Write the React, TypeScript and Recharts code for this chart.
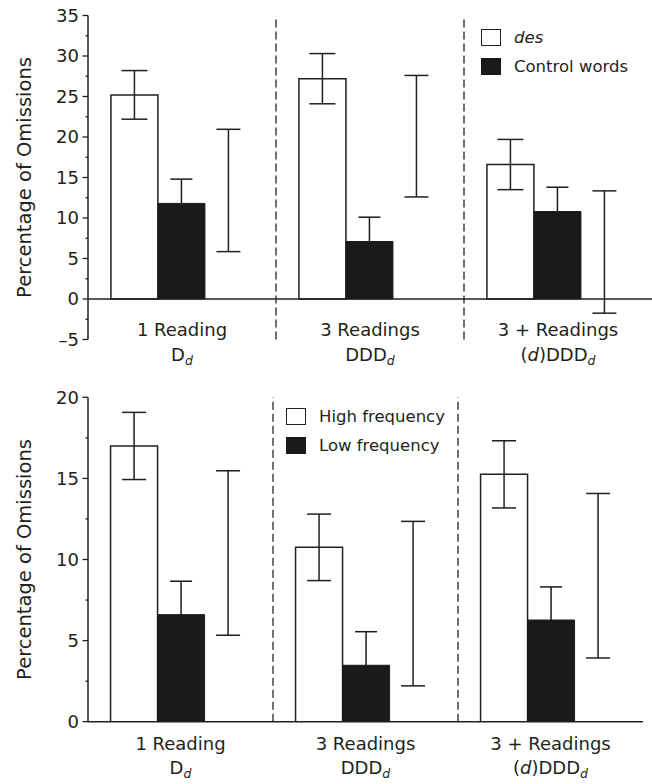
import React from 'react';
import { BarChart, Bar, XAxis, YAxis, ErrorBar, ReferenceLine, Legend } from 'recharts';

const font = '"DejaVu Sans", sans-serif';
const ink = '#231f20';
const black = '#1a1a1a';

// category labels (second line: text pieces, 'sub' = italic subscript, 'it' = italic)
const readings = ['1 Reading', '3 Readings', '3 + Readings'];
const patterns = [
  [['D', ''], ['d', 'sub']],
  [['DDD', ''], ['d', 'sub']],
  [['(', ''], ['d', 'it'], [')DDD', ''], ['d', 'sub']],
];

// top panel: des vs control words
const desMean = [25.2, 27.2, 16.6];
const desErr = [3.0, 3.1, 3.1];
const controlMean = [11.8, 7.1, 10.8];
const controlErr = [3.0, 3.0, 3.0];
const desDiff = [13.4, 20.1, 5.8];
const desDiffCI = [7.55, 7.5, 7.55];

// bottom panel: high vs low frequency
const highMean = [17.0, 10.75, 15.25];
const highErr = [2.07, 2.05, 2.07];
const lowMean = [6.6, 3.48, 6.27];
const lowErr = [2.06, 2.07, 2.04];
const freqDiff = [10.4, 7.28, 9.0];
const freqDiffCI = [5.07, 5.07, 5.07];

const topTicks = [-5, -2.5, 0, 2.5, 5, 7.5, 10, 12.5, 15, 17.5, 20, 22.5, 25, 27.5, 30, 32.5, 35];
const bottomTicks = [0, 2.5, 5, 7.5, 10, 12.5, 15, 17.5, 20];
// dashed separators after these categories
const separated = ['1 Reading', '3 Readings'];

const topData = readings.map((name, i) => ({
  name, a: desMean[i], aErr: desErr[i], b: controlMean[i], bErr: controlErr[i], d: desDiff[i], dErr: desDiffCI[i],
}));
const bottomData = readings.map((name, i) => ({
  name, a: highMean[i], aErr: highErr[i], b: lowMean[i], bErr: lowErr[i], d: freqDiff[i], dErr: freqDiffCI[i],
}));

const ValTick = (props: any) => {
  const { x, y, payload } = props;
  const v = payload.value;
  const major = v % 5 === 0;
  return (
    <g>
      <line x1={x - (major ? 5.5 : 2.5)} x2={x} y1={y} y2={y} stroke={ink} strokeWidth={1.3} />
      {major && (
        <text x={x - 9} y={y} dy="0.36em" textAnchor="end" fontSize={18} fontFamily={font} fill={ink}>
          {v < 0 ? '\u2013' + Math.abs(v) : v}
        </text>
      )}
    </g>
  );
};

const CatTick = (props: any) => {
  const { x, y, payload, dy1, dy2 } = props;
  const i = readings.indexOf(payload.value);
  return (
    <g fontFamily={font} fill={ink}>
      <text x={x} y={y + dy1} textAnchor="middle" fontSize={18}>{payload.value}</text>
      <text x={x} y={y + dy2} textAnchor="middle" fontSize={18}>
        {patterns[i].map(([t, s], k) =>
          s === 'sub' ? (
            <tspan key={k} fontStyle="italic" fontSize={12.5} dy={4}>{t}</tspan>
          ) : s === 'it' ? (
            <tspan key={k} fontStyle="italic">{t}</tspan>
          ) : (
            <tspan key={k}>{t}</tspan>
          )
        )}
      </text>
    </g>
  );
};

const LegendBox = ({ items }: { items: { label: string; fill: string; italic?: boolean }[] }) => (
  <div style={{ fontFamily: font, fontSize: 16.5, color: ink }}>
    {items.map((it, k) => (
      <div key={k} style={{ display: 'flex', alignItems: 'center', height: 17, marginBottom: 12 }}>
        <span
          style={{
            display: 'inline-block', width: 20, height: 17, boxSizing: 'border-box',
            border: `1.5px solid ${it.fill === '#fff' ? ink : black}`, background: it.fill, marginRight: 13,
          }}
        />
        <span style={{ fontStyle: it.italic ? 'italic' : 'normal', lineHeight: '17px' }}>{it.label}</span>
      </div>
    ))}
  </div>
);

type PanelProps = {
  data: any[];
  height: number;
  margin: any;
  domain: [number, number];
  ticks: number[];
  xHeight: number;
  dy1: number;
  dy2: number;
  zeroLine: boolean;
  legend: { label: string; fill: string; italic?: boolean }[];
  legendPos: { top: number; left: number };
  capA: number;
};

const Panel = (p: PanelProps) => (
  <BarChart width={652} height={p.height} data={p.data} margin={p.margin} barCategoryGap="12.2%" barGap={0}>
    <XAxis
      dataKey="name"
      height={p.xHeight}
      axisLine={p.zeroLine ? false : { stroke: ink, strokeWidth: 1.5 }}
      tickLine={false}
      tickSize={0}
      tickMargin={0}
      interval={0}
      tick={(props: any) => <CatTick {...props} dy1={p.dy1} dy2={p.dy2} />}
    />
    <YAxis
      width={88}
      domain={p.domain}
      ticks={p.ticks}
      interval={0}
      allowDataOverflow
      axisLine={{ stroke: ink, strokeWidth: 1.5 }}
      tickLine={false}
      tickSize={0}
      tickMargin={0}
      tick={ValTick}
      label={{
        value: 'Percentage of Omissions', angle: -90, position: 'insideLeft', offset: 24,
        style: { textAnchor: 'middle', fontFamily: font, fontSize: 19.5, fill: ink },
      }}
    />
    {p.zeroLine && <ReferenceLine y={0} stroke={ink} strokeWidth={1.5} />}
    {separated.map((s) => (
      <ReferenceLine key={s} x={s} position="end" stroke="#333" strokeWidth={1.4} strokeDasharray="8 4" />
    ))}
    <Bar dataKey="a" fill="#fff" stroke={ink} strokeWidth={1.5} isAnimationActive={false}>
      <ErrorBar dataKey="aErr" width={p.capA} stroke={ink} strokeWidth={1.5} direction="y" />
    </Bar>
    <Bar dataKey="b" fill={black} stroke={black} strokeWidth={1} isAnimationActive={false}>
      <ErrorBar dataKey="bErr" width={11} stroke={black} strokeWidth={1.5} direction="y" />
    </Bar>
    <Bar dataKey="d" fill="none" stroke="none" legendType="none" isAnimationActive={false}>
      <ErrorBar dataKey="dErr" width={12} stroke={ink} strokeWidth={1.5} direction="y" />
    </Bar>
    <Legend
      layout="vertical"
      align="center"
      verticalAlign="middle"
      content={() => <LegendBox items={p.legend} />}
      wrapperStyle={{ position: 'absolute', top: p.legendPos.top, left: p.legendPos.left, width: 'auto', height: 'auto' }}
    />
  </BarChart>
);

export default function App() {
  return (
    <div style={{ position: 'absolute', left: 0, top: 0, width: 652, height: 784, background: '#fff' }}>
      <div style={{ position: 'absolute', left: 0, top: 0 }}>
        <Panel
          data={topData}
          height={380}
          margin={{ top: 15.5, right: 0, left: 0, bottom: 0 }}
          domain={[-5, 35]}
          ticks={topTicks}
          xHeight={40.5}
          dy1={-3.5}
          dy2={21}
          zeroLine
          legend={[
            { label: 'des', fill: '#fff', italic: true },
            { label: 'Control words', fill: black },
          ]}
          legendPos={{ top: 29, left: 481 }}
          capA={13}
        />
      </div>
      <div style={{ position: 'absolute', left: 0, top: 380 }}>
        <Panel
          data={bottomData}
          height={404}
          margin={{ top: 17.3, right: 9, left: 0, bottom: 0 }}
          domain={[0, 20]}
          ticks={bottomTicks}
          xHeight={62.3}
          dy1={28}
          dy2={52.5}
          zeroLine={false}
          legend={[
            { label: 'High frequency', fill: '#fff' },
            { label: 'Low frequency', fill: black },
          ]}
          legendPos={{ top: 28, left: 286 }}
          capA={12}
        />
      </div>
    </div>
  );
}
